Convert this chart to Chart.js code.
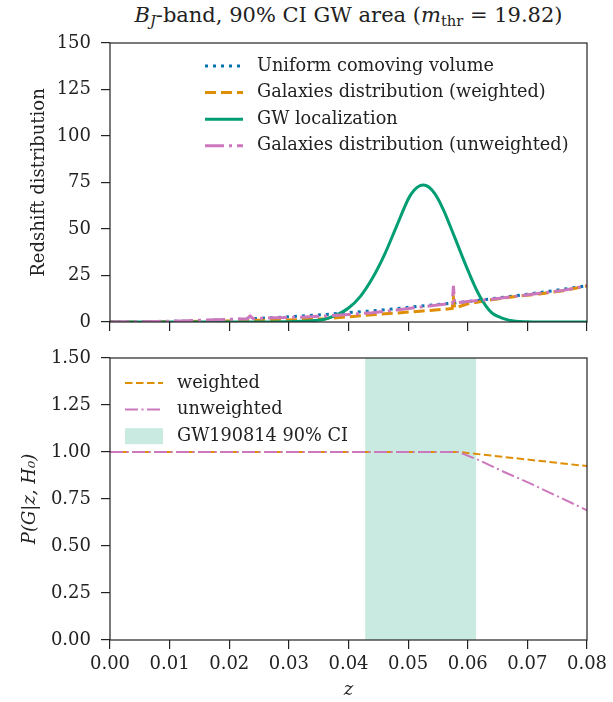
<!DOCTYPE html>
<html>
<head>
<meta charset="utf-8">
<script src="https://cdn.jsdelivr.net/npm/chart.js@4"></script>
<style>
  body { margin: 0; background: #fff; }
  #title { position: absolute; left: 110px; width: 477px; top: 3px; text-align: center;
           font-family: 'DejaVu Serif'; font-size: 21px; color: #222; white-space: nowrap; }
  #title sub { font-size: 70%; line-height: 0; vertical-align: -0.3em; }
  .box { position: absolute; left: 0; width: 613px; }
</style>
</head>
<body>
<div id="title"><i>B</i><sub><i>J</i></sub>-band, 90% CI GW area (<i>m</i><sub>thr</sub> = 19.82)</div>
<div class="box" style="top:0;height:345px"><canvas id="redshiftChart"></canvas></div>
<div class="box" style="top:345px;height:357px"><canvas id="probChart"></canvas></div>
<script>
// top panel: redshift distributions
const zUniform = [0, 0.004, 0.008, 0.012, 0.016, 0.020, 0.024, 0.028, 0.032, 0.036, 0.040,
                  0.044, 0.048, 0.052, 0.056, 0.060, 0.064, 0.068, 0.072, 0.076, 0.080];
const uniformVolume = [0, 0.05, 0.2, 0.45, 0.8, 1.25, 1.8, 2.45, 3.2, 4.0, 5.0,
                       6.0, 7.2, 8.5, 9.7, 11.0, 12.5, 14.1, 15.8, 17.6, 19.5];

const zGW = [0, 0.026, 0.030, 0.032, 0.034, 0.036, 0.038, 0.040, 0.042, 0.044, 0.046, 0.048,
             0.050, 0.051, 0.052, 0.053, 0.054, 0.055, 0.056, 0.057, 0.058, 0.060, 0.062,
             0.064, 0.066, 0.068, 0.070, 0.072, 0.080];
const gwLocalization = [0, 0, 0.2, 0.4, 0.7, 1.5, 3.8, 7.5, 13.8, 23.5, 36, 51,
                        66, 70.8, 73.3, 73.4, 71, 66.3, 59.7, 52, 44, 28, 14,
                        5, 1.8, 0.4, 0.1, 0, 0];

const zGalaxies = [0, 0.004, 0.008, 0.012, 0.016, 0.020, 0.023, 0.0235, 0.024, 0.028, 0.032, 0.036,
                   0.040, 0.044, 0.048, 0.052, 0.056, 0.0574, 0.0576, 0.0578, 0.060, 0.064, 0.068,
                   0.072, 0.076, 0.080];
const galaxiesWeighted = [0, 0.02, 0.1, 0.2, 0.4, 0.6, 0.8, 1.0, 0.9, 1.0, 1.3, 1.8,
                          2.8, 3.9, 4.8, 5.8, 6.8, 7.3, 13, 7.5, 9.8, 12, 13.7,
                          15.1, 16.8, 19.4];
const galaxiesUnweighted = [0, 0.1, 0.3, 0.6, 1.0, 1.4, 1.8, 3.2, 1.9, 2.3, 2.6, 3.2,
                            4.0, 5.0, 6.4, 8.0, 9.6, 10, 19.5, 10.3, 11, 12.2, 13.8,
                            15.4, 17, 19.5];

// bottom panel: P(G|z,H0)
const zWeighted = [0, 0.0585, 0.080];
const pWeighted = [1, 1, 0.925];
const zUnweighted = [0, 0.0585, 0.062, 0.066, 0.070, 0.074, 0.080];
const pUnweighted = [1, 1, 0.955, 0.895, 0.84, 0.78, 0.69];
const ciBand = [0.0428, 0.0614];

const xRange = [0, 0.08];
const xStep = 0.01;
const redshiftRange = [0, 150];
const redshiftStep = 25;
const probRange = [0, 1.5];
const probStep = 0.25;

const BLUE = '#0173b2', ORANGE = '#de8f05', GREEN = '#029e73', PINK = '#cc78bc';
const INK = '#222';

Chart.defaults.font.family = 'DejaVu Serif';
Chart.defaults.font.size = 18;
Chart.defaults.color = INK;

const toXY = (xs, ys) => xs.map((x, i) => ({ x: x, y: ys[i] }));

// fixed-width y axis so both panels line up; layout padding decides the top
const fixYAxis = s => { s.width = 110; s.paddingTop = 0; s.paddingBottom = 0; };

// matplotlib-like frame around the plot area
const frame = {
  id: 'frame',
  afterDraw(chart) {
    const a = chart.chartArea, ctx = chart.ctx;
    ctx.save();
    ctx.strokeStyle = INK;
    ctx.lineWidth = 1.2;
    ctx.strokeRect(a.left, a.top, a.right - a.left, a.bottom - a.top);
    ctx.restore();
  }
};

// shaded credible interval
const band = {
  id: 'band',
  beforeDatasetsDraw(chart, args, opts) {
    if (!opts.range) return;
    const x = chart.scales.x, a = chart.chartArea, ctx = chart.ctx;
    const x1 = x.getPixelForValue(opts.range[0]), x2 = x.getPixelForValue(opts.range[1]);
    ctx.save();
    ctx.fillStyle = opts.color;
    ctx.fillRect(x1, a.top, x2 - x1, a.bottom - a.top);
    ctx.restore();
  }
};

// legend inside the axes with line samples
const lineLegend = {
  id: 'lineLegend',
  afterDraw(chart, args, opts) {
    const ctx = chart.ctx, a = chart.chartArea;
    ctx.save();
    ctx.font = '17.7px "DejaVu Serif"';
    ctx.textBaseline = 'middle';
    let y = a.top + opts.top;
    const x0 = a.left + opts.left;
    opts.items.forEach(item => {
      if (item.patch) {
        ctx.fillStyle = item.patch;
        ctx.fillRect(x0, y - 8, opts.len, 16);
      } else {
        const ds = chart.data.datasets[item.dataset];
        ctx.strokeStyle = ds.borderColor;
        ctx.lineWidth = ds.borderWidth;
        ctx.setLineDash(ds.borderDash || []);
        ctx.beginPath();
        ctx.moveTo(x0, y);
        ctx.lineTo(x0 + opts.len, y);
        ctx.stroke();
        ctx.setLineDash([]);
      }
      ctx.fillStyle = INK;
      ctx.fillText(item.label, x0 + opts.len + opts.gap, y);
      y += opts.rowHeight;
    });
    ctx.restore();
  }
};

const gridStyle = { drawOnChartArea: false, tickLength: 9, color: INK, lineWidth: 1.2 };

new Chart(document.getElementById('redshiftChart'), {
  type: 'line',
  data: {
    datasets: [
      { data: toXY(zUniform, uniformVolume), borderColor: BLUE, borderWidth: 3, borderDash: [3, 5], order: 4 },
      { data: toXY(zGalaxies, galaxiesWeighted), borderColor: ORANGE, borderWidth: 3, borderDash: [11, 5], order: 3 },
      { data: toXY(zGW, gwLocalization), borderColor: GREEN, borderWidth: 3, tension: 0.35, order: 2 },
      { data: toXY(zGalaxies, galaxiesUnweighted), borderColor: PINK, borderWidth: 3, borderDash: [19, 5, 3, 5], order: 1 }
    ]
  },
  options: {
    responsive: true,
    maintainAspectRatio: false,
    animation: false,
    elements: { point: { radius: 0 }, line: { tension: 0 } },
    layout: { padding: { top: 43, right: 26, left: 0, bottom: 0 } },
    plugins: {
      legend: { display: false },
      tooltip: { enabled: false },
      lineLegend: {
        left: 95, top: 23, len: 38, gap: 14, rowHeight: 26.6,
        items: [
          { dataset: 0, label: 'Uniform comoving volume' },
          { dataset: 1, label: 'Galaxies distribution (weighted)' },
          { dataset: 2, label: 'GW localization' },
          { dataset: 3, label: 'Galaxies distribution (unweighted)' }
        ]
      }
    },
    scales: {
      x: {
        type: 'linear', min: xRange[0], max: xRange[1],
        ticks: { display: false, stepSize: xStep },
        grid: gridStyle, border: { display: false },
        afterFit: s => { s.height = 23; }
      },
      y: {
        min: redshiftRange[0], max: redshiftRange[1],
        ticks: { stepSize: redshiftStep, padding: 10 },
        grid: gridStyle, border: { display: false },
        title: { display: true, text: 'Redshift distribution', padding: { top: 29, bottom: 0 } },
        afterFit: fixYAxis
      }
    }
  },
  plugins: [frame, lineLegend]
});

new Chart(document.getElementById('probChart'), {
  type: 'line',
  data: {
    datasets: [
      { data: toXY(zWeighted, pWeighted), borderColor: ORANGE, borderWidth: 2, borderDash: [7.5, 3.5], order: 2 },
      { data: toXY(zUnweighted, pUnweighted), borderColor: PINK, borderWidth: 2, borderDash: [13, 3.5, 2, 3.5], order: 1 }
    ]
  },
  options: {
    responsive: true,
    maintainAspectRatio: false,
    animation: false,
    elements: { point: { radius: 0 }, line: { tension: 0 } },
    layout: { padding: { top: 13, right: 26, left: 0, bottom: 0 } },
    plugins: {
      legend: { display: false },
      tooltip: { enabled: false },
      band: { range: ciBand, color: 'rgba(2, 158, 115, 0.21)' },
      lineLegend: {
        left: 15, top: 25, len: 38, gap: 14, rowHeight: 26.6,
        items: [
          { dataset: 0, label: 'weighted' },
          { dataset: 1, label: 'unweighted' },
          { patch: 'rgba(2, 158, 115, 0.21)', label: 'GW190814 90% CI' }
        ]
      }
    },
    scales: {
      x: {
        type: 'linear', min: xRange[0], max: xRange[1],
        ticks: { stepSize: xStep, padding: 5, callback: v => v.toFixed(2) },
        grid: gridStyle, border: { display: false },
        title: { display: true, text: 'z', font: { style: 'italic' }, padding: { top: 0, bottom: 1 } },
        afterFit: s => { s.height = 62; }
      },
      y: {
        min: probRange[0], max: probRange[1],
        ticks: { stepSize: probStep, padding: 10, callback: v => v.toFixed(2) },
        grid: gridStyle, border: { display: false },
        title: { display: true, text: 'P(G|z, H\u2080)', font: { style: 'italic' }, padding: { top: 20, bottom: 0 } },
        afterFit: fixYAxis
      }
    }
  },
  plugins: [band, frame, lineLegend]
});
</script>
</body>
</html>
